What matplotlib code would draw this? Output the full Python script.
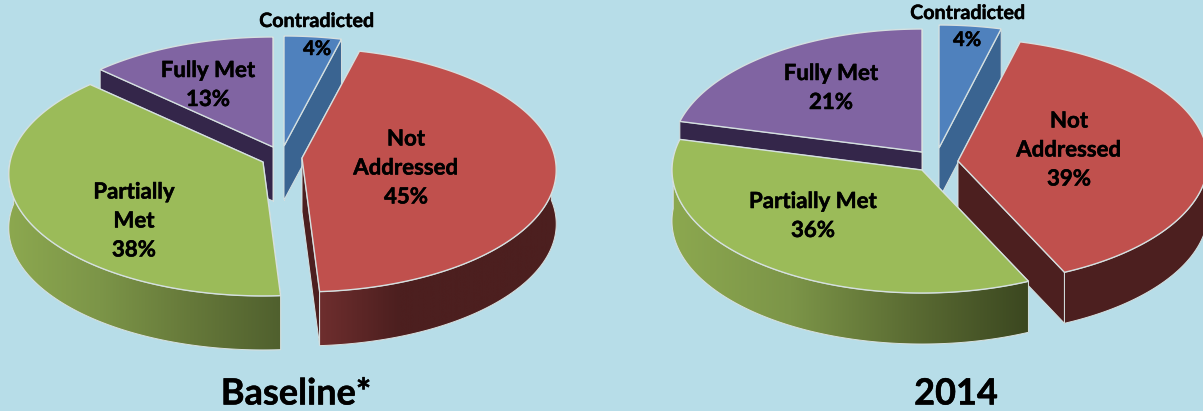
import numpy as np
import matplotlib
matplotlib.use('Agg')
import matplotlib.pyplot as plt
import matplotlib.patheffects as pe
from matplotlib.colors import LinearSegmentedColormap
from matplotlib.patches import Polygon

categories = ['Contradicted', 'Not Addressed', 'Partially Met', 'Fully Met']
baseline_pct = [4, 45, 38, 13]
y2014_pct = [4, 39, 36, 21]

baseline_labels = ['Contradicted', 'Not\nAddressed', 'Partially\nMet', 'Fully Met']
y2014_labels = ['Contradicted', 'Not\nAddressed', 'Partially Met', 'Fully Met']

BG = '#B7DDE8'
EDGE = '#D5E0E0'
top_colors = ['#4F81BD', '#C0504D', '#9BBB59', '#8064A2']
side_colors = ['#3A6491', '#4C1F1F', '#6E8540', '#34264A']

plt.rcParams['font.family'] = ['Lato', 'DejaVu Sans']
plt.rcParams['font.weight'] = 'bold'

fig = plt.figure(figsize=(12.03, 4.11), dpi=100, facecolor=BG)
ax = fig.add_axes([0, 0, 1, 1])
ax.set_xlim(0, 1203)
ax.set_ylim(411, 0)
ax.axis('off')


def rim(theta, apex, a, b, k):
    # tilted disc: back of the pie is squeezed by k
    t = np.radians(theta)
    w = 1 + k * np.sin(t)
    return apex[0] + a * np.cos(t) / w, apex[1] - b * np.sin(t) / w


def pie3d(values, apexes, a, b, k, depth, arc_ramps, order):
    ends = 90 - np.cumsum(values) * 3.6
    starts = np.r_[90, ends[:-1]]
    for i in order:
        ap = apexes[i]
        th = np.linspace(starts[i], ends[i], 300)
        x, y = rim(th, ap, a, b, k)
        z = 2 + order.index(i) * 4

        # cut faces
        for ex, ey in [(x[0], y[0]), (x[-1], y[-1])]:
            ax.add_patch(Polygon([ap, (ex, ey), (ex, ey + depth), (ap[0], ap[1] + depth)],
                                 fc=side_colors[i], ec=EDGE, lw=0.7, zorder=z))

        # outer wall, only the part facing the front, shaded left to right
        front = np.sin(np.radians(th)) < 0.1
        if front.any():
            fx, fy = x[front], y[front]
            wall = np.c_[np.r_[fx, fx[::-1]], np.r_[fy, fy[::-1] + depth]]
            outline = Polygon(wall, fc=side_colors[i], ec=EDGE, lw=0.7, zorder=z + 1)
            ax.add_patch(outline)
            if i in arc_ramps:
                cmap = LinearSegmentedColormap.from_list('wall', arc_ramps[i])
                im = ax.imshow(np.linspace(0, 1, 256)[None, :], cmap=cmap, aspect='auto',
                               extent=(fx.min(), fx.max(), fy.max() + depth, fy.min()),
                               zorder=z + 1.5)
                im.set_clip_path(outline)
                ax.add_patch(Polygon(wall, fc='none', ec=EDGE, lw=0.7, zorder=z + 1.6))

        # top face
        top = np.vstack([ap, np.c_[x, y]])
        ax.add_patch(Polygon(top, fc=top_colors[i], ec=EDGE, lw=1.0, zorder=z + 2))


baseline_apex = [(284, 146), (302, 158), (263, 162), (273, 147)]
y2014_apex = [(939, 148), (958, 161), (922, 170), (922, 152)]

pie3d(baseline_pct, baseline_apex, 253, 120.8, 0.098, 54,
      {1: ['#6E2E2E', '#4C1F1F', '#4C1F1F', '#4C1F1F'],
       2: ['#8CA84F', '#7C9548', '#66793A', '#50602E']},
      [3, 0, 1, 2])
pie3d(y2014_pct, y2014_apex, 250, 123, 0.0, 51,
      {2: ['#8CA84F', '#7C9548', '#5B6C33', '#3B4720']},
      [3, 0, 1, 2])
ax.set_xlim(0, 1203)
ax.set_ylim(411, 0)

baseline_pos = [(317, 49), (406, 168), (134, 221), (208, 85)]
y2014_pos = [(967, 40), (1069, 150), (813, 216), (831, 88)]

# slightly heavier strokes for the bold labels
heavy = [pe.withStroke(linewidth=0.35, foreground='black')]

for labels, vals, pos, head_pos in [(baseline_labels, baseline_pct, baseline_pos, (317, 21)),
                                    (y2014_labels, y2014_pct, y2014_pos, (968, 13))]:
    for i, (lab, v, p) in enumerate(zip(labels, vals, pos)):
        if i == 0:
            # this one sits outside its slice, value stays inside
            ax.text(head_pos[0], head_pos[1], lab, ha='center', va='center', fontsize=14.2,
                    zorder=50, path_effects=heavy)
            ax.text(p[0], p[1], '%d%%' % v, ha='center', va='center', fontsize=14.5,
                    zorder=50, path_effects=heavy)
        else:
            ax.text(p[0], p[1], '%s\n%d%%' % (lab, v), ha='center', va='center', fontsize=16,
                    linespacing=1.47, zorder=50, path_effects=heavy)

ax.text(296, 394, 'Baseline*', ha='center', va='center', fontsize=26, zorder=50, path_effects=heavy)
ax.text(956, 394, '2014', ha='center', va='center', fontsize=26, zorder=50, path_effects=heavy)

fig.savefig('out.png', dpi=100, facecolor=BG)
